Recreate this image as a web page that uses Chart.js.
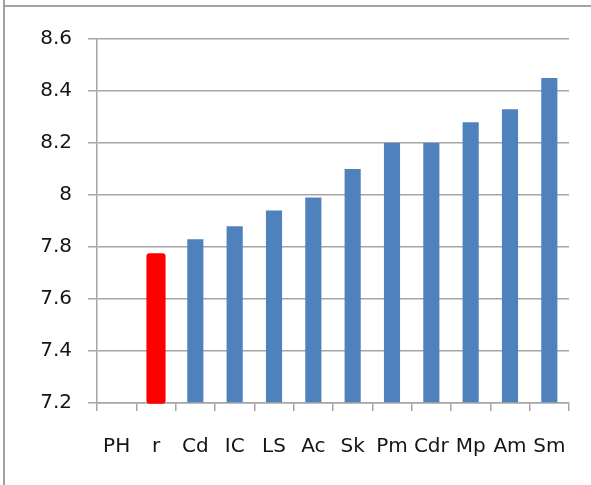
<!DOCTYPE html>
<html>
<head>
<meta charset="utf-8">
<script src="https://cdn.jsdelivr.net/npm/chart.js@4"></script>
<style>
  html, body { margin: 0; padding: 0; background: #ffffff; }
  #wrap { position: relative; width: 591px; height: 485px; overflow: hidden; background: #fff; }
  #c { position: absolute; left: 0; top: 0; }
  .frameTop { position: absolute; left: 3px; top: 5px; width: 588px; height: 2px; background: #a4a4a4; }
  .frameLeft { position: absolute; left: 3px; top: 0; width: 2px; height: 485px; background: #a0a0a0; }
</style>
</head>
<body>
<div id="wrap">
  <canvas id="c" width="591" height="485"></canvas>
  <div class="frameTop"></div>
  <div class="frameLeft"></div>
</div>
<script>
const categories = ['PH', 'r', 'Cd', 'IC', 'LS', 'Ac', 'Sk', 'Pm', 'Cdr', 'Mp', 'Am', 'Sm'];
const values = [null, 7.77, 7.83, 7.88, 7.94, 7.99, 8.10, 8.20, 8.20, 8.28, 8.33, 8.45];
const highlighted = ['r'];
const yMin = 7.2;
const yMax = 8.6;
const yStep = 0.2;

const BLUE = '#4f81bd';
const RED = '#ff0000';
const GRID = '#a6a6a6';
const TEXT = '#151515';
const FONT = { family: '"DejaVu Sans", sans-serif', size: 20 };

const isHi = ctx => highlighted.includes(categories[ctx.dataIndex]);

new Chart(document.getElementById('c'), {
  type: 'bar',
  data: {
    labels: categories,
    datasets: [{
      data: values,
      base: yMin,
      backgroundColor: ctx => isHi(ctx) ? RED : BLUE,
      borderWidth: 0,
      borderRadius: ctx => isHi(ctx) ? 3 : 0,
      borderSkipped: false,
      inflateAmount: ctx => isHi(ctx) ? 1.5 : 0,
      barPercentage: 0.41,
      categoryPercentage: 1.0,
      clip: false
    }]
  },
  options: {
    responsive: false,
    animation: false,
    devicePixelRatio: 1,
    layout: { padding: { top: 39, right: 22, left: 0, bottom: 0 } },
    plugins: { legend: { display: false }, tooltip: { enabled: false }, title: { display: false } },
    scales: {
      x: {
        offset: true,
        grid: { display: true, offset: true, drawOnChartArea: false, drawTicks: true, tickLength: 8, color: GRID, lineWidth: 1.5 },
        border: { display: true, color: GRID, width: 1.5 },
        ticks: { color: TEXT, font: FONT, padding: 24, maxRotation: 0, autoSkip: false },
        afterFit: s => { s.height = 82; }
      },
      y: {
        min: yMin,
        max: yMax,
        grid: { color: GRID, lineWidth: 1.5, tickLength: 9, drawTicks: true },
        border: { display: true, color: GRID, width: 1.5 },
        ticks: {
          stepSize: yStep,
          color: TEXT,
          font: FONT,
          padding: 16,
          callback: v => String(+Number(v).toFixed(1))
        },
        afterFit: s => { s.width = 97; }
      }
    }
  }
});
</script>
</body>
</html>
